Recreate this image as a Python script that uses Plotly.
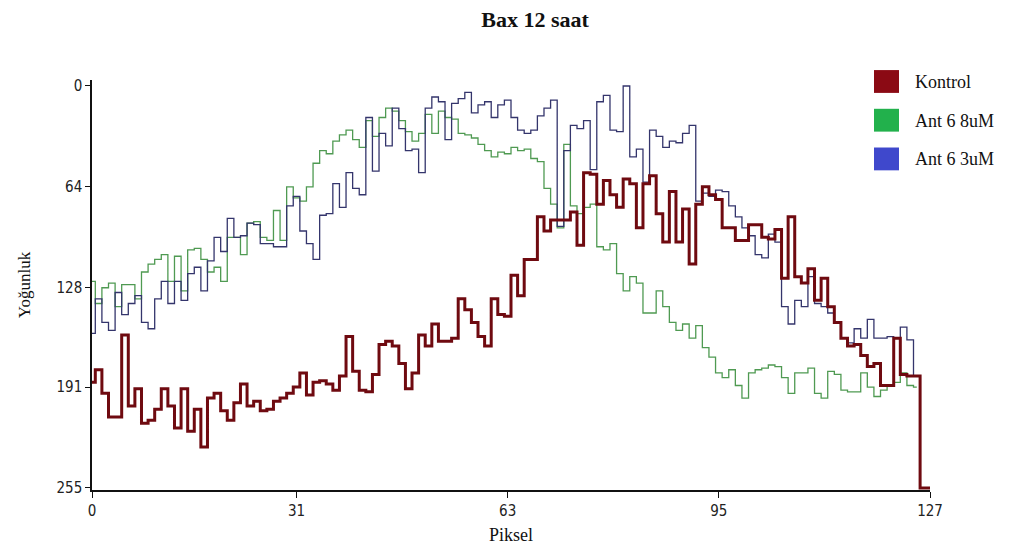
import plotly.graph_objects as go

# ---------------- data ----------------
pixel = list(range(128))

kontrol = [
    188, 180, 195, 210, 210, 158, 203, 192, 214, 212, 205, 192, 203, 217, 192, 219, 205, 229,
    198, 195, 206, 212, 201, 189, 203, 200, 206, 205, 200, 198, 195, 191, 182, 196, 188, 187,
    189, 193, 184, 159, 181, 193, 194, 183, 164, 162, 165, 176, 192, 182, 158, 165, 151, 162,
    162, 160, 135, 142, 150, 159, 165, 135, 145, 146, 120, 133, 110, 110, 83, 92, 85, 85,
    85, 80, 101, 55, 56, 75, 60, 69, 77, 59, 62, 90, 62, 57, 81, 99, 67, 99, 78, 113,
    75, 64, 69, 72, 90, 90, 98, 98, 88, 88, 96, 97, 91, 122, 83, 121,
    125, 116, 136, 122, 140, 150, 160, 165, 164, 171, 178, 176, 190, 190, 160, 183, 184, 184, 255, 255,
]

ant6_8uM = [
    124, 138, 128, 125, 140, 126, 126, 135, 118, 113, 110, 107, 124, 108, 130, 104, 103, 110,
    118, 115, 124, 96, 96, 107, 87, 86, 96, 98, 79, 98, 64, 71, 73, 64, 49, 41,
    43, 35, 31, 28, 34, 39, 22, 32, 20, 14, 16, 22, 29, 35, 30, 18, 30, 16,
    20, 21, 30, 31, 33, 37, 41, 45, 42, 43, 39, 41, 40, 46, 48, 65, 75, 90, 37, 76,
    81, 77, 75, 102, 104, 100, 119, 130, 121, 125, 144, 144, 130, 140, 150, 155, 151,
    160, 152, 166, 172, 182, 185, 180, 190, 198, 182, 180, 179, 177, 178, 185, 195, 182, 182,
    179, 195, 198, 181, 183, 193, 194, 194, 182, 191, 197, 193, 190, 188, 182, 190, 191,
    None, None,
]

ant6_3uM = [
    157, 135, 150, 155, 131, 145, 138, 133, 150, 154, 135, 124, 138, 124, 136, 119, 115, 130,
    111, 96, 105, 84, 96, 95, 87, 88, 100, 100, 102, 102, 76, 70, 92, 100, 110, 82,
    81, 62, 77, 55, 65, 69, 20, 54, 30, 38, 14, 27, 41, 40, 55, 14, 7, 10,
    34, 11, 8, 4, 17, 12, 10, 20, 12, 9, 20, 28, 30, 28, 19, 14, 9, 89, 41, 25,
    27, 22, 53, 10, 6, 28, 29, 0, 45, 40, 61, 28, 32, 39, 35, 36, 30, 25,
    73, 68, 70, 66, 67, 76, 83, 90, 95, 107, 109, 94, 99, 140, 151, 136, 140,
    121, 138, 140, 144,
    150, 160, 163, 154, 160, 148, 160, 160, 159, 160, 153, 161, 184,
    None, None,
]

series_names = ["Kontrol", "Ant 6 8uM", "Ant 6 3uM"]
x_ticks = [0, 31, 63, 95, 127]
y_ticks = [0, 64, 128, 191, 255]

# ---------------- styling ----------------
W, H = 1031, 554
L, R, T, B = 92, 101, 80, 61
PW, PH = W - L - R, H - T - B

def px2x(px):
    return (px - L) / PW

def py2y(py):
    return (H - B - py) / PH

legend_colors = ["#8B0A14", "#22B14C", "#3F48CC"]
line_styles = [
    dict(color="#6f0a10", width=3),
    dict(color="#4f9a52", width=1.3),
    dict(color="#34356c", width=1.3),
]
series = [kontrol, ant6_8uM, ant6_3uM]

tick_font = dict(family="DejaVu Sans Condensed, Liberation Sans Narrow, Arial Narrow, sans-serif",
                 size=15, color="#222")
serif = "Liberation Serif, Times New Roman, serif"

fig = go.Figure()
# draw order: green, blue, red on top
for idx in [1, 2, 0]:
    fig.add_trace(go.Scatter(
        x=pixel, y=series[idx], mode="lines", name=series_names[idx],
        line=dict(shape="hvh", **line_styles[idx]), connectgaps=False,
        showlegend=False, hoverinfo="x+y+name",
    ))

shapes = []
annotations = []
legend_top = [70, 109, 148]
for i, name in enumerate(series_names):
    y0 = legend_top[i]
    shapes.append(dict(type="rect", xref="paper", yref="paper",
                       x0=px2x(874), x1=px2x(899), y0=py2y(y0 + 23), y1=py2y(y0),
                       fillcolor=legend_colors[i], line=dict(width=0)))
    annotations.append(dict(x=px2x(913), y=py2y(y0 + 12), xref="paper", yref="paper",
                            text=name, showarrow=False, xanchor="left", yanchor="middle",
                            font=dict(family=serif, size=18, color="#111")))

fig.update_layout(
    width=W, height=H,
    margin=dict(l=L, r=R, t=T, b=B, pad=0),
    paper_bgcolor="white", plot_bgcolor="white",
    title=dict(text="<b>Bax 12 saat</b>", x=535 / W, xref="container", xanchor="center",
               y=1 - 19 / H, yref="container", yanchor="middle",
               font=dict(family=serif, size=22, color="#111")),
    shapes=shapes, annotations=annotations,
    showlegend=False,
)
fig.update_xaxes(
    range=[0, 127], tickvals=x_ticks, ticktext=[str(v) for v in x_ticks],
    showline=True, linecolor="#111", linewidth=1.5, ticks="outside", ticklen=6,
    tickcolor="#111", tickwidth=1.2, showgrid=False, zeroline=False,
    tickfont=tick_font,
    title=dict(text="Piksel", font=dict(family=serif, size=18, color="#111"), standoff=10),
)
fig.update_yaxes(
    range=[256.3, -3.8], tickvals=y_ticks, ticktext=[str(v) for v in y_ticks],
    showline=True, linecolor="#111", linewidth=1.5, ticks="outside", ticklen=5,
    tickcolor="#111", tickwidth=1.2, showgrid=False, zeroline=False,
    tickfont=tick_font,
    title=dict(text="Yoğunluk", font=dict(family=serif, size=17, color="#111"), standoff=22),
)

fig.write_html("out.html")
